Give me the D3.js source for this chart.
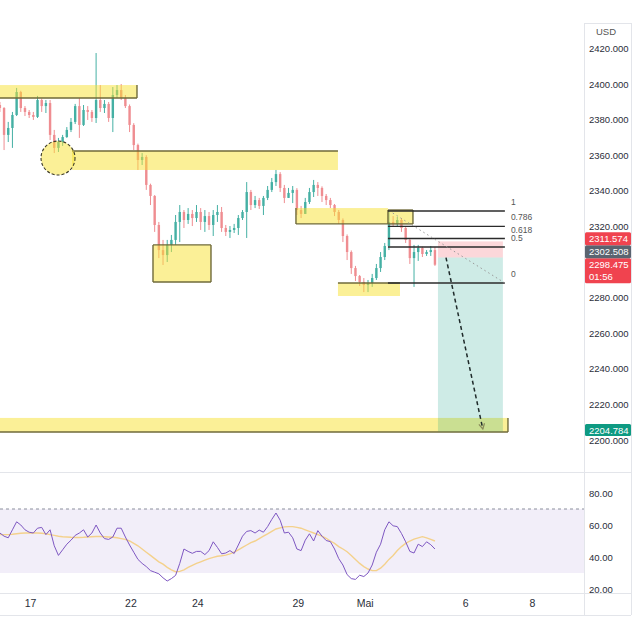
<!DOCTYPE html>
<html><head><meta charset="utf-8">
<script src="https://cdn.jsdelivr.net/npm/d3@7"></script>
<style>html,body{margin:0;padding:0;background:#fff}svg{display:block}</style>
</head><body>
<svg id="c" width="640" height="640"></svg>
<script>
// ---------- DATA ----------
const dayTicks = [0, 3, 5, 8, 10, 13, 15];
const dayLabels = ["17", "22", "24", "29", "Mai", "6", "8"];
const priceTicks = [2200, 2220, 2240, 2260, 2280, 2320, 2340, 2360, 2380, 2400, 2420];
const rsiTicks = [20, 40, 60, 80];
const barStart = -0.9;      // first bar, in trading days from Apr 17
const barsPerDay = 8;

const open = [2388.2, 2386.5, 2371.4, 2375.3, 2382.6, 2395.5, 2386.5, 2384.3, 2382.6, 2381.5,
2391.0, 2387.6, 2389.3, 2371.4, 2364.1, 2367.4, 2370.2, 2374.2, 2378.7, 2387.6,
2377.0, 2385.4, 2384.3, 2380.9, 2391.0, 2386.5, 2388.8, 2380.9, 2393.8, 2396.6,
2392.1, 2387.6, 2377.0, 2365.7, 2357.3, 2359.0, 2343.3, 2337.1, 2320.8, 2306.7,
2303.9, 2309.6, 2312.4, 2322.5, 2328.1, 2323.6, 2327.0, 2324.7, 2328.1, 2322.5,
2325.8, 2320.8, 2326.4, 2328.1, 2319.1, 2316.9, 2318.0, 2319.1, 2324.7, 2328.1,
2339.3, 2332.0, 2334.8, 2331.5, 2336.0, 2340.5, 2344.9, 2349.4, 2341.6, 2336.0,
2338.8, 2340.5, 2329.2, 2327.0, 2333.7, 2339.3, 2343.3, 2341.6, 2337.1, 2334.8,
2332.0, 2328.1, 2323.6, 2314.6, 2305.6, 2296.6, 2292.1, 2288.8, 2287.1, 2288.2,
2291.0, 2296.6, 2302.8, 2309.0, 2322.5, 2321.4, 2323.6, 2319.1, 2312.4, 2302.2,
2305.6, 2307.9, 2304.5, 2305.6, 2306.7];
const high = [2389.9, 2387.0, 2378.7, 2384.3, 2397.8, 2396.2, 2387.6, 2385.4, 2384.3, 2393.3,
2391.8, 2391.0, 2391.0, 2374.2, 2369.7, 2371.4, 2375.8, 2380.9, 2388.8, 2392.1,
2388.2, 2387.6, 2385.4, 2417.4, 2399.4, 2391.0, 2389.9, 2398.3, 2399.4, 2400.0,
2393.8, 2388.5, 2378.0, 2366.5, 2361.2, 2360.0, 2344.0, 2337.6, 2322.5, 2312.4,
2312.4, 2315.2, 2326.4, 2332.0, 2329.2, 2330.3, 2329.2, 2332.0, 2330.3, 2329.2,
2328.1, 2329.2, 2332.0, 2330.9, 2320.8, 2320.2, 2321.4, 2326.4, 2329.2, 2344.9,
2340.5, 2337.1, 2336.0, 2337.1, 2342.7, 2347.2, 2351.7, 2350.5, 2343.3, 2341.6,
2342.7, 2341.5, 2331.5, 2336.0, 2341.6, 2346.1, 2344.9, 2342.5, 2338.2, 2336.0,
2332.6, 2329.2, 2324.5, 2315.5, 2306.5, 2297.8, 2292.7, 2291.0, 2289.9, 2293.3,
2298.9, 2305.6, 2310.7, 2328.7, 2325.8, 2325.3, 2324.7, 2320.2, 2313.2, 2309.6,
2309.6, 2308.6, 2306.7, 2309.0, 2308.4];
const low = [2384.3, 2362.9, 2367.4, 2364.1, 2382.0, 2384.3, 2382.0, 2380.9, 2379.8, 2380.9,
2384.3, 2383.7, 2368.5, 2361.2, 2361.8, 2365.2, 2369.7, 2373.0, 2377.5, 2369.7,
2376.4, 2379.8, 2378.7, 2378.1, 2384.3, 2383.7, 2378.7, 2373.0, 2392.1, 2391.0,
2386.5, 2373.0, 2362.9, 2351.7, 2354.5, 2340.5, 2332.0, 2316.9, 2302.2, 2298.3,
2300.0, 2305.6, 2309.6, 2311.2, 2319.1, 2321.4, 2320.2, 2322.5, 2318.0, 2316.9,
2318.0, 2314.6, 2322.5, 2316.9, 2314.6, 2313.5, 2316.3, 2315.2, 2323.6, 2313.5,
2329.2, 2330.3, 2329.8, 2326.4, 2334.8, 2339.3, 2342.7, 2339.3, 2333.1, 2336.0,
2333.1, 2326.4, 2324.7, 2327.0, 2332.6, 2336.5, 2337.1, 2333.7, 2332.0, 2330.3,
2325.8, 2321.4, 2311.2, 2301.1, 2293.3, 2289.3, 2286.5, 2283.1, 2283.1, 2286.0,
2289.9, 2294.4, 2301.1, 2306.7, 2319.7, 2320.2, 2316.9, 2310.7, 2298.9, 2286.0,
2300.6, 2302.8, 2303.4, 2303.4, 2297.8];
const close = [2386.5, 2371.4, 2375.3, 2382.6, 2395.5, 2386.5, 2384.3, 2382.6, 2381.5, 2391.0,
2387.6, 2389.3, 2371.4, 2364.1, 2367.4, 2370.2, 2374.2, 2378.7, 2387.6, 2377.0,
2385.4, 2384.3, 2380.9, 2391.0, 2386.5, 2388.8, 2380.9, 2393.8, 2396.6, 2392.1,
2387.6, 2377.0, 2365.7, 2357.3, 2359.0, 2343.3, 2337.1, 2320.8, 2306.7, 2303.9,
2309.6, 2312.4, 2322.5, 2328.1, 2323.6, 2327.0, 2324.7, 2328.1, 2322.5, 2325.8,
2320.8, 2326.4, 2328.1, 2319.1, 2316.9, 2318.0, 2319.1, 2324.7, 2328.1, 2339.3,
2332.0, 2334.8, 2331.5, 2336.0, 2340.5, 2344.9, 2349.4, 2341.6, 2336.0, 2338.8,
2340.5, 2329.2, 2327.0, 2333.7, 2339.3, 2343.3, 2341.6, 2337.1, 2334.8, 2332.0,
2328.1, 2323.6, 2314.6, 2305.6, 2296.6, 2292.1, 2288.8, 2287.1, 2288.2, 2291.0,
2296.6, 2302.8, 2309.0, 2322.5, 2321.4, 2323.6, 2319.1, 2312.4, 2302.2, 2305.6,
2307.9, 2304.5, 2305.6, 2306.7, 2298.475];

const rsi = [55, 53, 52, 57, 62, 60, 57, 55.5, 55, 58,
58.5, 54, 57, 47, 41, 44.5, 48, 50.5, 53.5, 55,
57, 52.5, 55, 60, 55, 51.5, 51, 52.5, 58, 58,
52.5, 47.5, 43, 38.5, 36, 34, 31.5, 30.5, 29.5, 27,
25, 26.5, 28.5, 36, 45, 43.5, 42.3, 43.5, 43.5, 41.5,
44, 49.5, 46, 42, 42.5, 44, 42.2, 47.5, 53, 56,
56.5, 55, 56.8, 55.5, 59, 63.5, 67.5, 63, 55, 55.5,
52, 45, 44, 50.5, 54.5, 50, 56.5, 53, 50.3, 49.6,
45, 39, 35, 29, 26.5, 26, 28.6, 27.8, 30, 35,
43, 48, 57, 62, 59.5, 59, 54.7, 49.5, 43.5, 42.5,
48, 46.5, 49.5, 47.7, 45];
const rsiMA = [54, 54, 54, 54.2, 54.5, 54.8, 55, 55, 55, 55,
54.8, 54.5, 54, 53.5, 53, 52.7, 52.5, 52.3, 52.2, 52.2,
52.3, 52.5, 52.7, 52.8, 52.8, 52.7, 52.5, 52.3, 52, 51.5,
51, 50, 48.5, 47, 45, 43, 41, 39, 37, 35.5,
33.5, 32, 30.8, 31, 32, 33.5, 34.8, 36, 37, 38,
39, 39.8, 40.5, 40.8, 41.2, 42, 43, 44.5, 46, 47.5,
49, 50, 51.5, 53, 54.5, 56, 57.5, 58.2, 58.8, 59,
59, 58.5, 58, 57, 56, 55, 54, 53, 51.7, 50,
48.5, 46.5, 45, 43.3, 41, 38.5, 36, 34, 32.5, 31.5,
31.5, 33, 35.5, 38.5, 41, 44, 46.5, 48.5, 50, 51.2,
52, 52.7, 52, 51, 50];
const rsiBands = [70, 30];

// drawings (time in trading days, price in USD)
const zoneDay0 = [-0.9, 1.255, 3.675, 7.947, 10.696, 9.202, -0.9];
const zoneDay1 = [3.197, 9.202, 5.408, 10.696, 11.443, 11.055, 14.282];
const zoneHi   = [2399.4, 2362.4, 2309.6, 2330.3, 2329.2, 2288.2, 2212.4];
const zoneLo   = [2392.1, 2351.7, 2288.8, 2321.4, 2321.4, 2280.9, 2204.5];
const circleAt = [0.837, 2358.4];
const fibDays = [10.696, 14.19];
const fibHigh = 2328.65, fibLow = 2288.2;
const fibLevels = [1, 0.786, 0.618, 0.5, 0];
const fibLabels = ["1", "0.786", "0.618", "0.5", "0"];
const posDays = [12.19, 14.13];
const entryPrice = 2302.508, stopPrice = 2311.574, targetPrice = 2204.784;
const arrowDays = [12.43, 13.53], arrowPrices = [2302.5, 2206.2];
const dotDays = [10.84, 14.19], dotPrices = [2327.5, 2288.2];
const lastPrice = 2298.475, countdown = "01:56";

// ---------- LAYOUT ----------
const svg = d3.select("#c");
const axisX = 584, axisR = 631;
const mainBottom = 472, rsiBottom = 593, timeBottom = 615;
const font = "'Liberation Sans', Arial, sans-serif";

const x = d3.scaleLinear().domain([0, 15]).range([30, 532]);
const y = d3.scaleLinear().domain([2200, 2400]).range([440, 84]);
const yr = d3.scaleLinear().domain([20, 80]).range([589, 493]);
const barDay = i => barStart + i / barsPerDay;

const defs = svg.append("defs");
defs.append("clipPath").attr("id", "cm").append("rect").attr("x", 0).attr("y", 0).attr("width", axisX).attr("height", mainBottom);
defs.append("clipPath").attr("id", "cr").append("rect").attr("x", 0).attr("y", mainBottom).attr("width", axisX).attr("height", rsiBottom - mainBottom);

// frame lines
const frame = svg.append("g").attr("stroke", "#e3e5ea").attr("stroke-width", 1);
[mainBottom, rsiBottom, timeBottom].forEach(v => frame.append("line").attr("x1", 0).attr("x2", axisR).attr("y1", v + 0.5).attr("y2", v + 0.5));
frame.append("line").attr("x1", axisX + 0.5).attr("x2", axisX + 0.5).attr("y1", 23).attr("y2", timeBottom);
frame.append("line").attr("x1", axisR + 0.5).attr("x2", axisR + 0.5).attr("y1", 23).attr("y2", timeBottom);
frame.append("line").attr("x1", axisX).attr("x2", axisR).attr("y1", 23.5).attr("y2", 23.5);

const main = svg.append("g").attr("clip-path", "url(#cm)");

// candles
const bars = d3.range(open.length).map(i => ({i, o: open[i], h: high[i], l: low[i], c: close[i]}));
const upC = "#45b0a4", dnC = "#ef8d91";
const cg = main.append("g");
cg.selectAll("line").data(bars).join("line")
  .attr("x1", d => x(barDay(d.i))).attr("x2", d => x(barDay(d.i)))
  .attr("y1", d => y(d.h)).attr("y2", d => y(d.l))
  .attr("stroke", d => d.c >= d.o ? upC : dnC).attr("stroke-width", 1);
cg.selectAll("rect").data(bars).join("rect")
  .attr("x", d => x(barDay(d.i)) - 1.2).attr("width", 2.4)
  .attr("y", d => y(Math.max(d.o, d.c))).attr("height", d => Math.max(1, Math.abs(y(d.o) - y(d.c))))
  .attr("fill", d => d.c >= d.o ? upC : dnC);

// yellow zones
const yellow = "rgba(247,225,48,0.5)", edge = "#6f6a3a";
const edges = ["br", "t", "tblr", "bl", "tblr", "t", "br"];
const zg = main.append("g");
zoneDay0.forEach((d0, k) => {
  const x0 = x(d0), x1 = x(zoneDay1[k]), y0 = y(zoneHi[k]), y1 = y(zoneLo[k]);
  zg.append("rect").attr("x", x0).attr("y", y0).attr("width", x1 - x0).attr("height", y1 - y0).attr("fill", yellow);
  const e = edges[k];
  const ln = (a, b, c, d) => zg.append("line").attr("x1", a).attr("y1", b).attr("x2", c).attr("y2", d).attr("stroke", edge).attr("stroke-width", 1.4);
  if (e.includes("t")) ln(x0, y0, x1, y0);
  if (e.includes("b")) ln(x0, y1, x1, y1);
  if (e.includes("l")) ln(x0, y0, x0, y1);
  if (e.includes("r")) ln(x1, y0, x1, y1);
});
main.append("circle").attr("cx", x(circleAt[0])).attr("cy", y(circleAt[1])).attr("r", 17)
  .attr("fill", yellow).attr("stroke", "#3c3a28").attr("stroke-width", 1.1).attr("stroke-dasharray", "3,2");

// position tool
const px0 = x(posDays[0]), px1 = x(posDays[1]);
main.append("rect").attr("x", px0).attr("width", px1 - px0).attr("y", y(stopPrice)).attr("height", y(entryPrice) - y(stopPrice)).attr("fill", "rgba(242,54,69,0.2)");
main.append("rect").attr("x", px0).attr("width", px1 - px0).attr("y", y(entryPrice)).attr("height", y(targetPrice) - y(entryPrice)).attr("fill", "rgba(8,153,129,0.2)");

// fib
const fg = main.append("g");
fibLevels.forEach((lv, k) => {
  const p = fibLow + lv * (fibHigh - fibLow);
  fg.append("line").attr("x1", x(fibDays[0])).attr("x2", x(fibDays[1])).attr("y1", y(p)).attr("y2", y(p))
    .attr("stroke", "#2b2b2b").attr("stroke-width", 1.4);
  fg.append("text").attr("x", x(fibDays[1]) + 6).attr("y", y(p) - 6).text(fibLabels[k])
    .attr("font-family", font).attr("font-size", 8.5).attr("fill", "#555");
});

// dotted guide
main.append("line").attr("x1", x(dotDays[0])).attr("y1", y(dotPrices[0])).attr("x2", x(dotDays[1])).attr("y2", y(dotPrices[1]))
  .attr("stroke", "#9a9a9a").attr("stroke-width", 1).attr("stroke-dasharray", "1.5,3");

// dashed arrow
const ax0 = x(arrowDays[0]), ay0 = y(arrowPrices[0]), ax1 = x(arrowDays[1]), ay1 = y(arrowPrices[1]);
main.append("line").attr("x1", ax0).attr("y1", ay0).attr("x2", ax1).attr("y2", ay1)
  .attr("stroke", "#1f2a2a").attr("stroke-width", 1.5).attr("stroke-dasharray", "4,3");
const ang = Math.atan2(ay1 - ay0, ax1 - ax0);
const ah = 6;
main.append("path").attr("d", `M${ax1 - ah * Math.cos(ang - 0.5)},${ay1 - ah * Math.sin(ang - 0.5)}L${ax1},${ay1}L${ax1 - ah * Math.cos(ang + 0.5)},${ay1 - ah * Math.sin(ang + 0.5)}`)
  .attr("fill", "none").attr("stroke", "#8a8a5a").attr("stroke-width", 1.2);

// price axis
const pAxis = svg.append("g").attr("transform", `translate(${axisX},0)`)
  .call(d3.axisRight(y).tickValues(priceTicks).tickFormat(d3.format(".3f")).tickSize(0).tickPadding(5));
pAxis.select(".domain").remove();
pAxis.selectAll("text").attr("font-family", font).attr("font-size", 9.5).attr("fill", "#2a2e39");
svg.append("text").attr("x", 596).attr("y", 35).text("USD").attr("font-family", font).attr("font-size", 9.5).attr("fill", "#555");

// price labels
function tag(yc, h, fill, lines) {
  svg.append("rect").attr("x", axisX + 1).attr("y", yc - 6.5).attr("width", axisR - axisX - 1).attr("height", h).attr("rx", 1.5).attr("fill", fill);
  lines.forEach((t, k) => svg.append("text").attr("x", axisX + 5).attr("y", yc + 3.3 + k * 12).text(t)
    .attr("font-family", font).attr("font-size", 9.5).attr("fill", "#fff"));
}
const yLast = y(lastPrice);
tag(yLast, 25, "#f0434f", [d3.format(".3f")(lastPrice), countdown]);
tag(yLast - 13, 13, "#5a6470", [d3.format(".3f")(entryPrice)]);
tag(yLast - 26, 13, "#f0434f", [d3.format(".3f")(stopPrice)]);
tag(y(targetPrice) - 1, 12, "#0e9a82", [d3.format(".3f")(targetPrice)]);

// RSI pane
const rp = svg.append("g").attr("clip-path", "url(#cr)");
rp.append("rect").attr("x", 0).attr("width", axisX).attr("y", yr(rsiBands[0])).attr("height", yr(rsiBands[1]) - yr(rsiBands[0])).attr("fill", "rgba(126,87,194,0.1)");
rp.append("line").attr("x1", 0).attr("x2", axisX).attr("y1", yr(rsiBands[0])).attr("y2", yr(rsiBands[0]))
  .attr("stroke", "#8a8f9c").attr("stroke-dasharray", "3,3").attr("stroke-width", 1);
const rl = d3.line().x((d, i) => x(barDay(i))).y(d => yr(d));
rp.append("path").attr("d", rl(rsiMA)).attr("fill", "none").attr("stroke", "#f4d18c").attr("stroke-width", 1.4);
rp.append("path").attr("d", rl(rsi)).attr("fill", "none").attr("stroke", "#7e57c2").attr("stroke-width", 1);
const rAxis = svg.append("g").attr("transform", `translate(${axisX},0)`)
  .call(d3.axisRight(yr).tickValues(rsiTicks).tickFormat(d3.format(".2f")).tickSize(0).tickPadding(5));
rAxis.select(".domain").remove();
rAxis.selectAll("text").attr("font-family", font).attr("font-size", 9.5).attr("fill", "#2a2e39");

// time axis
const tAxis = svg.append("g").attr("transform", `translate(0,${rsiBottom})`)
  .call(d3.axisBottom(x).tickValues(dayTicks).tickFormat((d, i) => dayLabels[i]).tickSize(0).tickPadding(7));
tAxis.select(".domain").remove();
tAxis.selectAll("text").attr("font-family", font).attr("font-size", 10.5).attr("fill", "#2a2e39");
</script>
</body></html>
